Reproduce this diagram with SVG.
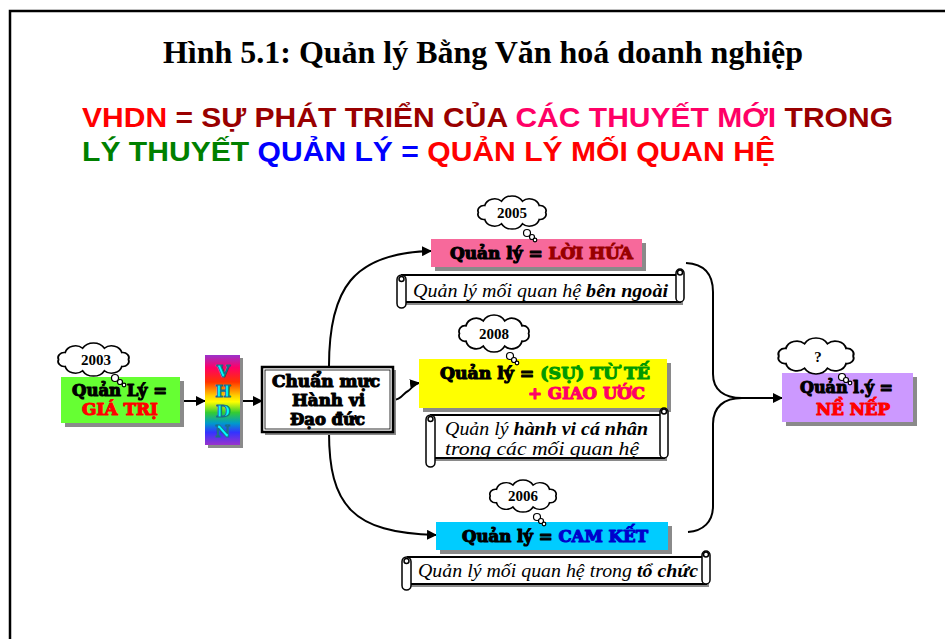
<svg xmlns="http://www.w3.org/2000/svg" width="945" height="639" viewBox="0 0 945 639">
  <defs>
    <style>
      .title { font-family: "Liberation Serif", serif; font-weight: bold; font-size: 32px; fill: #000; }
      .head { font-family: "Liberation Sans", Arial, sans-serif; font-weight: bold; font-size: 28px; }
      .heavy { font-family: "DejaVu Serif", serif; font-weight: bold; stroke-width: 1.1; stroke-linejoin: round; }
      .k { fill: #000; stroke: #000; }
      .red { fill: #FF0000; stroke: #FF0000; }
      .maroon { fill: #990000; stroke: #990000; }
      .green { fill: #009900; stroke: #009900; }
      .pink { fill: #FF0066; stroke: #FF0066; }
      .navy { fill: #0000CC; stroke: #0000CC; }
      .year { font-family: "Liberation Serif", serif; font-weight: bold; font-size: 15px; fill: #000; }
      .scroll-text { font-family: "Liberation Serif", serif; font-style: italic; font-size: 19px; fill: #000; }
      .shadow { fill: #8a8a8a; }
      .cloud { fill: #fff; stroke: #000; stroke-width: 1.6; }
      .bubble { fill: #fff; stroke: #000; stroke-width: 1.2; }
      .conn { fill: none; stroke: #000; stroke-width: 2; }
      .scroll-body { fill: #fff; stroke: #000; stroke-width: 2; }
      .scroll-roll { fill: #fff; stroke: #000; stroke-width: 1.5; }
    </style>
    <marker id="arrow" viewBox="0 0 10 10" refX="9" refY="5" markerWidth="5" markerHeight="5" orient="auto" markerUnits="strokeWidth">
      <path d="M0,0 L10,5 L0,10 Z" fill="#000"/>
    </marker>
    <linearGradient id="rainbow" x1="0" y1="0" x2="0" y2="1">
      <stop offset="0" stop-color="#9933CC"/>
      <stop offset="0.14" stop-color="#FF0066"/>
      <stop offset="0.3" stop-color="#FF3300"/>
      <stop offset="0.45" stop-color="#FFCC00"/>
      <stop offset="0.52" stop-color="#FFFF00"/>
      <stop offset="0.64" stop-color="#33CC33"/>
      <stop offset="0.76" stop-color="#0099CC"/>
      <stop offset="0.86" stop-color="#3333FF"/>
      <stop offset="1" stop-color="#9933CC"/>
    </linearGradient>
    <!-- thought-cloud outline, centred on the origin -->
    <symbol id="cloud" viewBox="-35 -18.5 70 37" preserveAspectRatio="none" overflow="visible">
      <path class="cloud" d="M31,0 A5.4,5.4 0 0 1 25.1,7.3 A9.3,9.3 0 0 1 9.6,11.9 A11,11 0 0 1 -9.6,11.9 A9.3,9.3 0 0 1 -25.1,7.3 A5.4,5.4 0 0 1 -31,0 A5.4,5.4 0 0 1 -25.1,-7.3 A9.3,9.3 0 0 1 -9.6,-11.9 A11,11 0 0 1 9.6,-11.9 A9.3,9.3 0 0 1 25.1,-7.3 A5.4,5.4 0 0 1 31,0 Z"/>
    </symbol>
  </defs>

  <rect width="945" height="639" fill="#fff"/>
  <!-- page frame -->
  <path d="M10,639 L10,11 L945,11" fill="none" stroke="#000" stroke-width="2.5"/>

  <!-- heading -->
  <text class="title" x="163" y="63" textLength="640" lengthAdjust="spacingAndGlyphs">Hình 5.1: Quản lý Bằng Văn hoá doanh nghiệp</text>
  <text class="head" x="82" y="127" textLength="811" lengthAdjust="spacingAndGlyphs"><tspan fill="#FF0000">VHDN</tspan><tspan fill="#990000"> = SỰ PHÁT TRIỂN CỦA </tspan><tspan fill="#FF0066">CÁC THUYẾT MỚI</tspan><tspan fill="#990000"> TRONG</tspan></text>
  <text class="head" x="82" y="161" textLength="693" lengthAdjust="spacingAndGlyphs"><tspan fill="#008000">LÝ THUYẾT </tspan><tspan fill="#0000FF">QUẢN LÝ =</tspan><tspan fill="#FF0000"> QUẢN LÝ MỐI QUAN HỆ</tspan></text>

  <!-- connectors -->
  <g id="connectors">
    <path class="conn" d="M183,401 L205,401" marker-end="url(#arrow)"/>
    <path class="conn" d="M240,401 L262,401" marker-end="url(#arrow)"/>
    <path class="conn" d="M329,366 C329,290 352,253 431,251" marker-end="url(#arrow)"/>
    <path class="conn" d="M329,432 C329,505 352,533 436,535" marker-end="url(#arrow)"/>
    <path class="conn" d="M393,400 C402,400 403,393 408,391 C412,389 412,384 419,383" marker-end="url(#arrow)"/>
    <path class="conn" d="M686,263 C704,264 713,274 713,292 L713,374 C713,390 724,398 742,398 L782,398" marker-end="url(#arrow)"/>
    <path class="conn" d="M742,398 C724,398 713,407 713,424 L713,506 C713,522 703,531 688,532"/>
  </g>

  <!-- Quản Lý = GIÁ TRỊ -->
  <g id="node-gia-tri">
    <rect class="shadow" x="65" y="381" width="119" height="46"/>
    <rect x="61" y="377" width="119" height="46" fill="#66FF33"/>
    <text class="heavy" x="72" y="396" font-size="16" textLength="95" lengthAdjust="spacingAndGlyphs"><tspan class="k">Quản Lý =</tspan></text>
    <text class="heavy" x="82" y="415" font-size="16" textLength="76" lengthAdjust="spacingAndGlyphs"><tspan class="red">GIÁ TRỊ</tspan></text>
    <use href="#cloud" x="54" y="342" width="79" height="35"/>
    <circle class="bubble" cx="115" cy="378" r="3.5"/>
    <circle class="bubble" cx="120" cy="382" r="2.5"/>
    <circle class="bubble" cx="124" cy="385" r="1.8"/>
    <text class="year" x="96" y="365" text-anchor="middle">2003</text>
  </g>

  <!-- VHDN bar -->
  <g id="node-vhdn">
    <rect class="shadow" x="208" y="358" width="35" height="90"/>
    <rect x="205" y="355" width="35" height="90" fill="url(#rainbow)"/>
    <g class="heavy" font-size="17" text-anchor="middle" fill="#00FFFF" stroke="#1a6d8a" stroke-width="0.6">
      <text x="223" y="377">V</text>
      <text x="223" y="397">H</text>
      <text x="223" y="417">D</text>
      <text x="223" y="437">N</text>
    </g>
  </g>

  <!-- Chuẩn mực Hành vi Đạo đức -->
  <g id="node-chuan-muc">
    <rect class="shadow" x="265" y="370" width="131" height="65"/>
    <rect x="262" y="367" width="131" height="65" fill="#fff" stroke="#000" stroke-width="2.5"/>
    <rect x="265" y="370" width="125" height="59" fill="none" stroke="#000" stroke-width="0.8"/>
    <g class="heavy" font-size="16">
      <text x="272" y="387" textLength="108" lengthAdjust="spacingAndGlyphs"><tspan class="k">Chuẩn mực</tspan></text>
      <text x="292" y="406" textLength="73" lengthAdjust="spacingAndGlyphs"><tspan class="k">Hành vi</tspan></text>
      <text x="290" y="425" textLength="75" lengthAdjust="spacingAndGlyphs"><tspan class="k">Đạo đức</tspan></text>
    </g>
  </g>

  <!-- Quản lý = LỜI HỨA -->
  <g id="node-loi-hua">
    <rect class="shadow" x="435" y="243" width="211" height="28"/>
    <rect x="431" y="239" width="211" height="28" fill="#F7699B"/>
    <text class="heavy" x="450" y="259" font-size="16" textLength="183" lengthAdjust="spacingAndGlyphs"><tspan class="k">Quản lý = </tspan><tspan class="maroon">LỜI HỨA</tspan></text>
    <use href="#cloud" x="474" y="195" width="76" height="35"/>
    <circle class="bubble" cx="527" cy="233" r="3.5"/>
    <circle class="bubble" cx="532" cy="237" r="2.5"/>
    <circle class="bubble" cx="535" cy="240" r="1.8"/>
    <text class="year" x="512" y="218" text-anchor="middle">2005</text>
  </g>

  <!-- scroll: bên ngoài -->
  <g id="note-ben-ngoai">
    <rect class="shadow" x="405" y="278" width="278" height="27"/>
    <rect class="scroll-body" x="402" y="275" width="278" height="27"/>
    <rect class="scroll-roll" x="397" y="275" width="9" height="33" rx="4.5"/>
    <circle class="scroll-roll" cx="401.5" cy="279" r="2.5"/>
    <rect class="scroll-roll" x="676" y="269" width="8" height="33" rx="4"/>
    <circle class="scroll-roll" cx="680" cy="272.5" r="2.5"/>
    <text class="scroll-text" x="413" y="297" textLength="255" lengthAdjust="spacingAndGlyphs">Quản lý mối quan hệ <tspan font-weight="bold">bên ngoài</tspan></text>
  </g>

  <!-- Quản lý = (SỰ) TỪ TẾ + GIAO ƯỚC -->
  <g id="node-tu-te">
    <rect class="shadow" x="423" y="363" width="248" height="49"/>
    <rect x="419" y="359" width="248" height="49" fill="#FFFF00"/>
    <text class="heavy" x="440" y="379" font-size="16" textLength="210" lengthAdjust="spacingAndGlyphs"><tspan class="k">Quản lý = </tspan><tspan class="green">(SỰ) TỪ TẾ</tspan></text>
    <text class="heavy" x="528" y="399" font-size="16" textLength="117" lengthAdjust="spacingAndGlyphs"><tspan class="pink">+ GIAO ƯỚC</tspan></text>
    <use href="#cloud" x="455" y="314" width="78" height="39"/>
    <circle class="bubble" cx="510" cy="356" r="3.5"/>
    <circle class="bubble" cx="514" cy="360" r="2.5"/>
    <circle class="bubble" cx="517" cy="363" r="1.8"/>
    <text class="year" x="494" y="339" text-anchor="middle">2008</text>
  </g>

  <!-- scroll: hành vi cá nhân -->
  <g id="note-hanh-vi">
    <rect class="shadow" x="434" y="418" width="233" height="43"/>
    <rect class="scroll-body" x="431" y="415" width="233" height="43"/>
    <rect class="scroll-roll" x="426" y="415" width="9" height="52" rx="4.5"/>
    <circle class="scroll-roll" cx="430.5" cy="419" r="2.5"/>
    <rect class="scroll-roll" x="660" y="408" width="8" height="50" rx="4"/>
    <circle class="scroll-roll" cx="664" cy="411.5" r="2.5"/>
    <text class="scroll-text" x="445" y="435" textLength="203" lengthAdjust="spacingAndGlyphs">Quản lý <tspan font-weight="bold">hành vi cá nhân</tspan></text>
    <text class="scroll-text" x="445" y="455" textLength="194" lengthAdjust="spacingAndGlyphs">trong các mối quan hệ</text>
  </g>

  <!-- Quản lý = CAM KẾT -->
  <g id="node-cam-ket">
    <rect class="shadow" x="440" y="526" width="232" height="28"/>
    <rect x="436" y="522" width="232" height="28" fill="#00CCFF"/>
    <text class="heavy" x="462" y="542" font-size="16" textLength="186" lengthAdjust="spacingAndGlyphs"><tspan class="k">Quản lý = </tspan><tspan class="navy">CAM KẾT</tspan></text>
    <use href="#cloud" x="486" y="479" width="74" height="34"/>
    <circle class="bubble" cx="537" cy="517" r="3.5"/>
    <circle class="bubble" cx="541" cy="521" r="2.5"/>
    <circle class="bubble" cx="544" cy="524" r="1.8"/>
    <text class="year" x="523" y="501" text-anchor="middle">2006</text>
  </g>

  <!-- scroll: trong tổ chức -->
  <g id="note-to-chuc">
    <rect class="shadow" x="411" y="560" width="298" height="27"/>
    <rect class="scroll-body" x="408" y="557" width="298" height="27"/>
    <rect class="scroll-roll" x="402" y="557" width="9" height="33" rx="4.5"/>
    <circle class="scroll-roll" cx="406.5" cy="561" r="2.5"/>
    <rect class="scroll-roll" x="702" y="551" width="8" height="33" rx="4"/>
    <circle class="scroll-roll" cx="706" cy="554.5" r="2.5"/>
    <text class="scroll-text" x="418" y="577" textLength="280" lengthAdjust="spacingAndGlyphs">Quản lý mối quan hệ trong <tspan font-weight="bold">tổ chức</tspan></text>
  </g>

  <!-- Quản l.ý = NỀ NẾP -->
  <g id="node-ne-nep">
    <rect class="shadow" x="786" y="377" width="131" height="49"/>
    <rect x="782" y="373" width="131" height="49" fill="#CC99FF"/>
    <text class="heavy" x="800" y="393" font-size="16" textLength="93" lengthAdjust="spacingAndGlyphs"><tspan class="k">Quản l.ý =</tspan></text>
    <text class="heavy" x="816" y="415" font-size="16" textLength="74" lengthAdjust="spacingAndGlyphs"><tspan class="red">NỀ NẾP</tspan></text>
    <use href="#cloud" x="774" y="337" width="84" height="38"/>
    <circle class="bubble" cx="842" cy="377" r="3.5"/>
    <circle class="bubble" cx="846" cy="380" r="2.5"/>
    <circle class="bubble" cx="850" cy="383" r="1.8"/>
    <text class="year" x="818" y="362" text-anchor="middle">?</text>
  </g>
</svg>
